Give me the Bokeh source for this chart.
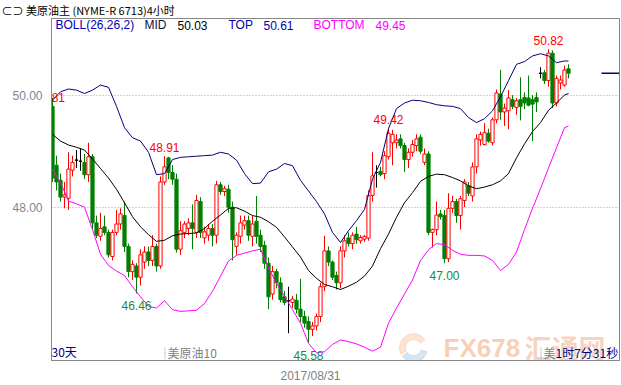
from bokeh.plotting import figure
from bokeh.models import FixedTicker, PrintfTickFormatter, Label, ColumnDataSource, Range1d
from bokeh.embed import file_html
from bokeh.resources import INLINE
from bokeh.core.properties import value

# ---------------- data ----------------
opens = [49.80, 48.75, 48.48, 48.18, 48.16, 48.66, 48.84, 48.82, 48.80, 48.58,
         48.90, 47.72, 47.48, 47.65, 47.55, 47.12, 47.55, 47.70, 47.85, 47.30,
         46.85, 46.95, 46.75, 47.02, 47.20, 47.05, 47.30, 46.95, 48.45, 48.88,
         48.62, 48.50, 47.25, 47.55, 47.62, 47.72, 47.55, 48.10, 47.45, 47.50,
         47.62, 47.50, 48.40, 48.28, 48.32, 48.00, 47.30, 47.48, 47.68, 47.76,
         47.48, 47.75, 47.50, 47.32, 47.00, 46.45, 46.85, 46.65, 46.40, 46.33,
         46.30, 46.34, 46.18, 46.05, 45.96, 45.82, 45.88, 46.05, 46.58, 47.22,
         47.02, 46.78, 46.65, 47.22, 47.45, 47.35, 47.52, 47.40, 47.43, 47.45,
         48.21, 48.62, 48.64, 48.60, 48.90, 49.15, 49.15, 49.22, 49.10, 48.85,
         48.98, 49.10, 49.25, 48.80, 48.95, 47.55, 47.60, 47.88, 47.85, 47.08,
         47.98, 48.10, 47.85, 48.12, 48.38, 48.20, 48.72, 49.20, 49.12, 49.32,
         49.15, 49.56, 50.02, 49.70, 49.72, 49.92, 49.78, 49.92, 49.96, 49.95,
         49.92, 49.96, 50.39, 50.40, 50.26, 50.75, 49.86, 50.22, 50.18, 50.47]
highs = [49.95, 48.92, 48.60, 48.45, 48.98, 48.92, 49.02, 49.05, 48.95, 49.15,
         48.95, 47.85, 47.90, 47.85, 47.60, 47.60, 47.95, 47.98, 48.10, 47.35,
         47.05, 47.00, 47.25, 47.30, 47.30, 47.50, 47.35, 48.55, 48.91, 48.90,
         48.75, 48.60, 47.75, 47.75, 47.80, 48.05, 48.22, 48.18, 47.65, 47.70,
         47.70, 48.47, 48.45, 48.38, 48.40, 48.10, 47.55, 47.85, 47.85, 47.85,
         47.85, 48.20, 47.60, 47.40, 47.10, 46.95, 46.90, 46.75, 46.50, 46.58,
         46.42, 46.45, 46.72, 46.15, 46.05, 45.95, 46.10, 46.65, 47.49, 47.30,
         47.05, 46.85, 47.30, 47.50, 47.55, 47.55, 47.65, 47.50, 47.50, 48.30,
         48.98, 48.75, 48.72, 49.00, 49.42, 49.38, 49.30, 49.30, 49.15, 49.05,
         49.20, 49.30, 49.30, 49.05, 49.00, 47.62, 48.10, 47.95, 47.95, 48.25,
         48.20, 48.15, 48.20, 48.50, 48.45, 48.80, 49.30, 49.35, 49.50, 49.40,
         49.60, 50.10, 50.45, 49.85, 50.09, 50.00, 49.95, 50.32, 50.05, 50.35,
         50.00, 50.05, 50.50, 50.45, 50.82, 50.80, 50.35, 50.35, 50.53, 50.55]
lows = [48.45, 48.30, 48.10, 47.98, 47.95, 48.55, 48.70, 48.65, 48.50, 48.45,
        47.60, 47.45, 47.40, 47.50, 47.10, 47.05, 47.50, 47.60, 47.20, 46.75,
        46.70, 46.46, 46.60, 46.90, 46.95, 46.95, 46.85, 46.90, 48.40, 48.50,
        48.40, 47.19, 47.15, 47.45, 47.50, 47.25, 47.45, 47.45, 47.35, 47.40,
        47.30, 47.35, 48.22, 48.20, 47.90, 47.05, 47.15, 47.35, 47.60, 47.40,
        47.30, 47.35, 47.20, 46.90, 46.18, 46.35, 46.55, 46.30, 46.25, 45.75,
        46.20, 46.10, 45.95, 45.85, 45.58, 45.70, 45.80, 45.95, 46.50, 46.95,
        46.70, 46.53, 46.55, 47.10, 47.30, 47.25, 47.35, 47.35, 47.38, 47.40,
        48.10, 48.35, 48.55, 48.50, 48.85, 48.75, 49.05, 49.05, 48.63, 48.70,
        48.90, 49.00, 48.95, 48.75, 47.50, 47.28, 47.50, 47.78, 47.00, 47.02,
        47.90, 47.72, 47.60, 48.00, 48.20, 48.10, 48.60, 49.10, 49.10, 49.15,
        49.10, 49.50, 49.56, 49.45, 49.39, 49.75, 49.65, 49.55, 49.75, 49.80,
        49.18, 49.70, 50.30, 50.20, 50.15, 49.77, 49.80, 50.10, 50.15, 50.30]
closes = [48.52, 48.45, 48.18, 48.22, 48.68, 48.80, 48.84, 48.82, 48.58, 48.90,
          47.72, 47.50, 47.62, 47.55, 47.15, 47.55, 47.70, 47.88, 47.30, 46.85,
          46.98, 46.75, 47.15, 47.20, 47.05, 47.30, 46.95, 48.45, 48.72, 48.62,
          48.50, 47.25, 47.58, 47.70, 47.72, 47.62, 48.12, 47.55, 47.56, 47.62,
          47.50, 48.40, 48.28, 48.33, 48.00, 47.42, 47.50, 47.72, 47.76, 47.50,
          47.70, 47.48, 47.30, 47.00, 46.40, 46.85, 46.65, 46.35, 46.30, 46.33,
          46.36, 46.18, 46.05, 45.93, 45.82, 45.88, 46.05, 46.58, 47.22, 47.02,
          46.75, 46.65, 47.22, 47.40, 47.35, 47.50, 47.42, 47.46, 47.48, 48.21,
          48.56, 48.62, 48.58, 48.92, 49.32, 49.30, 49.20, 49.10, 48.85, 48.98,
          49.12, 49.22, 49.00, 48.95, 47.55, 47.60, 47.86, 47.83, 47.08, 47.98,
          48.10, 47.85, 48.15, 48.45, 48.25, 48.72, 49.22, 49.30, 49.33, 49.18,
          49.56, 50.04, 49.70, 49.77, 49.95, 49.80, 49.90, 49.80, 49.86, 49.82,
          49.84, 49.88, 50.39, 50.26, 50.75, 49.86, 50.30, 50.27, 50.45, 50.39]

# BOLL(26,26,2) band values, sampled at candle indices
boll_idx = list(range(0, 129, 2)) + [129]
boll_top = [49.91, 50.06, 50.11, 50.09, 50.03, 50.09, 50.18, 50.14, 49.80, 49.42,
            49.24, 49.18, 48.98, 48.58, 48.60, 48.85, 48.89, 48.90, 48.91, 48.92,
            48.93, 48.98, 48.95, 48.84, 48.60, 48.42, 48.43, 48.63, 48.68, 48.78,
            48.74, 48.48, 48.29, 48.10, 47.88, 47.55, 47.37, 47.58, 47.76, 47.96,
            48.50, 48.80, 49.40, 49.76, 49.86, 49.91, 49.90, 49.87, 49.83, 49.81,
            49.80, 49.76, 49.60, 49.51, 49.58, 49.72, 49.97, 50.26, 50.55, 50.60,
            50.70, 50.74, 50.70, 50.58, 50.61, 50.61]
boll_mid = [49.30, 49.18, 49.11, 49.07, 49.02, 48.86, 48.69, 48.52, 48.32, 48.08,
            47.83, 47.65, 47.51, 47.39, 47.41, 47.49, 47.52, 47.53, 47.54, 47.62,
            47.75, 47.86, 47.98, 47.99, 47.93, 47.85, 47.82, 47.74, 47.64, 47.47,
            47.29, 47.11, 46.87, 46.73, 46.62, 46.58, 46.53, 46.59, 46.66, 46.77,
            46.95, 47.26, 47.52, 47.82, 48.08, 48.26, 48.46, 48.55, 48.59, 48.58,
            48.53, 48.47, 48.38, 48.33, 48.36, 48.40, 48.47, 48.60, 48.88, 49.13,
            49.35, 49.51, 49.73, 49.86, 50.00, 50.03]
boll_bot = [48.68, 48.44, 48.11, 48.06, 48.00, 47.60, 47.16, 46.96, 46.86, 46.78,
            46.58, 46.40, 46.23, 46.20, 46.33, 46.17, 46.14, 46.15, 46.16, 46.28,
            46.50, 46.77, 47.04, 47.14, 47.18, 47.22, 47.25, 46.92, 46.64, 46.41,
            46.17, 45.93, 45.57, 45.40, 45.42, 45.55, 45.63, 45.60, 45.56, 45.50,
            45.43, 45.50, 45.93, 46.20, 46.45, 46.70, 47.05, 47.24, 47.35, 47.33,
            47.23, 47.16, 47.14, 47.14, 47.13, 47.05, 46.87, 46.98, 47.20, 47.60,
            47.98, 48.33, 48.70, 49.06, 49.42, 49.45]

y_ticks = [48, 50]
date_tick = [64.5]
date_labels = ["2017/08/31"]
high_marks = [28, 84, 124]
low_marks = [21, 64, 98]
title_text = "⊂⊃ 美原油主 (NYME-R 6713)4小时"

# ---------------- layout helpers (page pixels -> data) ----------------
def dx(px):
    return (px - 52) / 4.0

def dy(py):
    return 50 - (py - 95) / 57.0

RED = "#FF0000"
GREEN = "#008000"
NAVY = "#000080"
MAG = "#FF00FF"
GRAY = "#888888"

p = figure(width=621, height=385,
           x_range=Range1d(dx(51), dx(619)), y_range=Range1d(dy(365), dy(17)),
           output_backend="svg", toolbar_location=None,
           min_border_left=51, min_border_right=2, min_border_top=17, min_border_bottom=20,
           background_fill_color="white", border_fill_color="white")
p.outline_line_color = GRAY

# title (header line above the frame)
p.title.text = title_text
p.title.align = "left"
p.title.offset = -50
p.title.standoff = 0
p.title.vertical_align = "middle"
p.title.text_font = "Noto Sans CJK SC"
p.title.text_font_size = "11px"
p.title.text_font_style = "normal"
p.title.text_color = "black"

# axes
p.yaxis.ticker = FixedTicker(ticks=y_ticks)
p.yaxis.formatter = PrintfTickFormatter(format="%.2f")
p.yaxis.axis_line_color = GRAY
p.yaxis.major_tick_line_color = None
p.yaxis.minor_tick_line_color = None
p.yaxis.major_label_standoff = 3
p.yaxis.major_label_text_color = "#7f8794"
p.yaxis.major_label_text_font = "Liberation Sans"
p.yaxis.major_label_text_font_size = "12px"

p.xaxis.ticker = FixedTicker(ticks=date_tick)
p.xaxis.major_label_overrides = {date_tick[0]: date_labels[0]}
p.xaxis.axis_line_color = GRAY
p.xaxis.major_tick_line_color = None
p.xaxis.minor_tick_line_color = None
p.xaxis.major_label_standoff = 2
p.xaxis.major_label_text_color = "#808080"
p.xaxis.major_label_text_font = "Liberation Sans"
p.xaxis.major_label_text_font_size = "12px"

p.xgrid.visible = False
p.ygrid.ticker = FixedTicker(ticks=y_ticks)
p.ygrid.grid_line_color = "#a8a8a8"
p.ygrid.grid_line_dash = "1 2"

# watermark
wm = dict(text_baseline="middle", text_alpha=0.5, level="underlay")
p.add_layout(Label(x=dx(443), y=dy(352), text="FX678", text_font="Liberation Sans",
                   text_font_style="bold", text_font_size="26px", text_color="#F0A070", **wm))
p.add_layout(Label(x=dx(524), y=dy(352), text="汇通网", text_font="Noto Sans CJK SC",
                   text_font_style="bold", text_font_size="27px", text_color="#F0A888", **wm))
p.annular_wedge(x=[dx(413)], y=[dy(352)], inner_radius=8, outer_radius=14,
                start_angle=[0.6], end_angle=[3.6], inner_radius_units="screen",
                outer_radius_units="screen", color="#F5B080", alpha=0.35)
p.annular_wedge(x=[dx(413)], y=[dy(352)], inner_radius=8, outer_radius=14,
                start_angle=[3.8], end_angle=[6.0], inner_radius_units="screen",
                outer_radius_units="screen", color="#90B8E0", alpha=0.35)

# candles
n = len(closes)
idx = list(range(n))
cols, fills, tops, bots = [], [], [], []
for o, c in zip(opens, closes):
    if c > o:
        cols.append(RED); fills.append("white")
    elif c < o:
        cols.append(GREEN); fills.append(GREEN)
    else:
        cols.append("black"); fills.append("black")
    tops.append(max(o, c)); bots.append(min(o, c))
src = ColumnDataSource(dict(x=idx, hi=highs, lo=lows, top=tops, bot=bots, col=cols, fill=fills))
p.segment(x0="x", y0="hi", x1="x", y1="top", line_color="col", line_width=1, source=src)
p.segment(x0="x", y0="lo", x1="x", y1="bot", line_color="col", line_width=1, source=src)
p.vbar(x="x", top="top", bottom="bot", width=0.8, fill_color="fill", line_color="col",
       line_width=1, source=src)

# bollinger bands
p.line(boll_idx, boll_top, line_color=NAVY, line_width=1)
p.line(boll_idx, boll_mid, line_color="black", line_width=1)
p.line(boll_idx, boll_bot, line_color=MAG, line_width=1)

# last price marker
p.segment(x0=[dx(601)], y0=[closes[-1]], x1=[dx(619)], y1=[closes[-1]], line_color=NAVY, line_width=1.5)

# high / low annotations
for i in high_marks:
    p.add_layout(Label(x=i, y=highs[i], text=f"{highs[i]:.2f}", text_align="center",
                       text_baseline="bottom", y_offset=4, text_color=RED,
                       text_font="Liberation Sans", text_font_size="12px"))
for i in low_marks:
    p.add_layout(Label(x=i, y=lows[i], text=f"{lows[i]:.2f}", text_align="center",
                       text_baseline="top", y_offset=-8, text_color="#1a8a3a",
                       text_font="Liberation Sans", text_font_size="12px"))
# clipped high label at the left edge
p.text(x=[dx(49.5)], y=[dy(97)], text=["50.81"], text_align="center", text_baseline="middle",
       text_color=RED, text_font=value("Liberation Sans"), text_font_size="12px")

# header / footer labels inside the frame
def lab(x, y, text, color, font="Liberation Sans", size="12px", **kw):
    p.add_layout(Label(x=dx(x), y=dy(y), text=text, text_color=color, text_font=font,
                       text_font_size=size, text_baseline="middle", **kw))

lab(55, 24, "BOLL(26,26,2)", "#0000B0")
lab(144, 24, "MID", "#101040")
lab(177, 24, f"{boll_mid[-1]:.2f}", "black")
lab(228, 24, "TOP", "#0000B0")
lab(263, 24, f"{boll_top[-1]:.2f}", "#0000B0")
lab(313, 24, "BOTTOM", MAG)
lab(375, 24, f"{boll_bot[-1]:.2f}", MAG)

lab(51, 356, "30天", NAVY, font="Noto Sans CJK SC")
lab(167, 357, "美原油10", "#808080", font="Noto Sans CJK SC")
lab(543, 357, "美", "#808080", font="Noto Sans CJK SC")
lab(555, 357, "1时7分31秒", NAVY, font="Noto Sans CJK SC")
p.segment(x0=[dx(164.5), dx(540.5)], y0=[dy(352), dy(352)], x1=[dx(164.5), dx(540.5)],
          y1=[dy(364), dy(364)], line_color="#999999", line_dash="1 1", line_width=1)

open("out.html", "w").write(file_html(p, INLINE))
